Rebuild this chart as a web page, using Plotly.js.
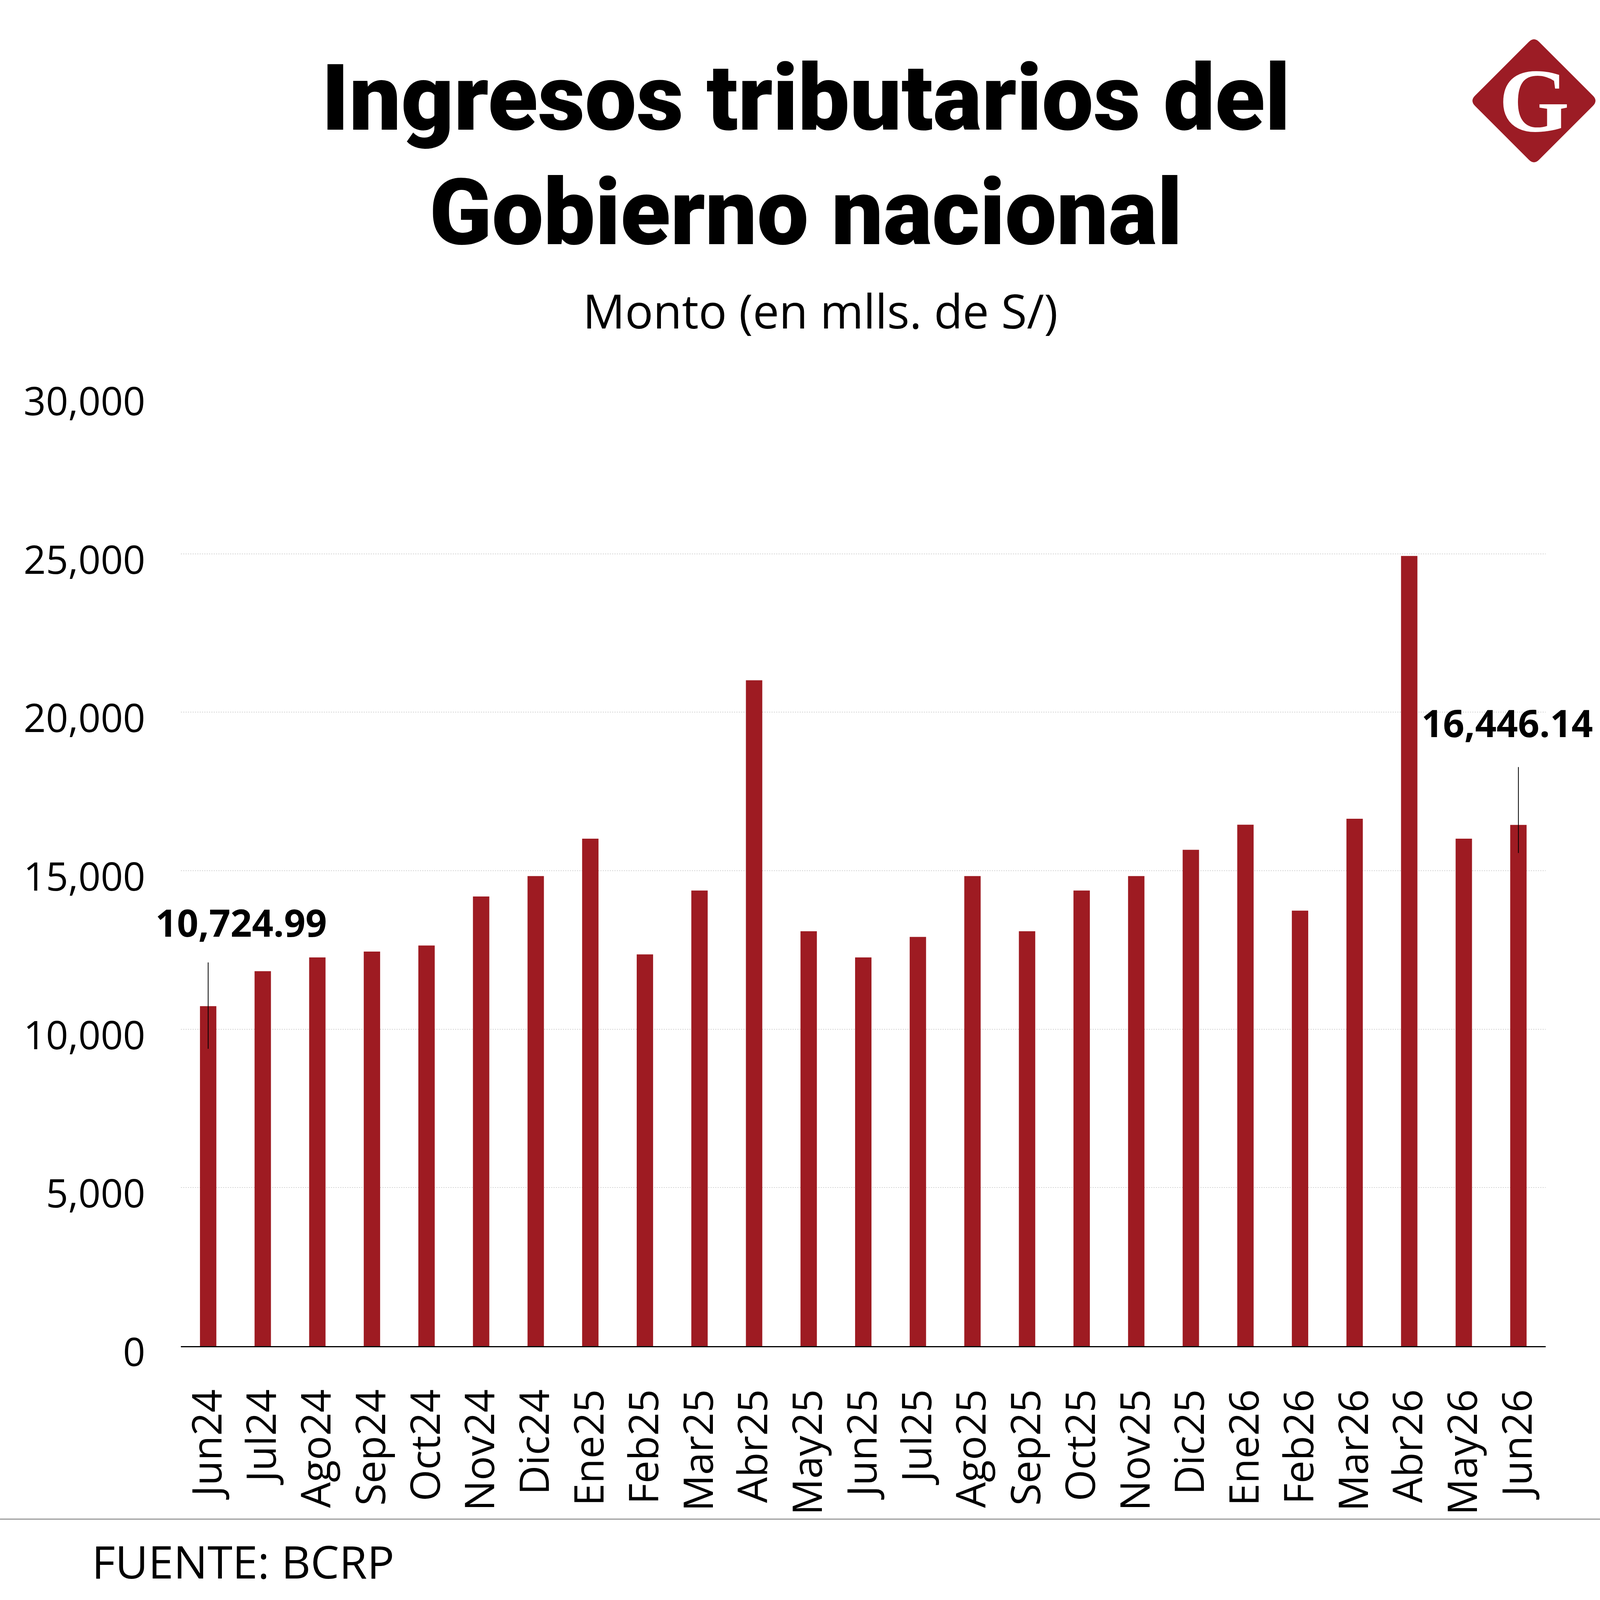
<!DOCTYPE html>
<html>
<head>
<meta charset="utf-8">
<script src="https://cdn.plot.ly/plotly-3.0.1.min.js"></script>
<style>
  html, body { margin: 0; padding: 0; background: #ffffff; }
  #chart { width: 4150px; height: 4598px; }
</style>
</head>
<body>
<div id="chart"></div>
<script>
// ---- Data ----
const months = ['Jun24','Jul24','Ago24','Sep24','Oct24','Nov24','Dic24','Ene25','Feb25','Mar25','Abr25','May25',
                'Jun25','Jul25','Ago25','Sep25','Oct25','Nov25','Dic25','Ene26','Feb26','Mar26','Abr26','May26','Jun26'];
const values = [10724.99, 11830, 12265, 12450, 12640, 14185, 14830, 16010, 12360, 14375, 21010, 13090,
                12265, 12910, 14830, 13090, 14375, 14830, 15660, 16450, 13740, 16640, 24930, 16010, 16446.14];
const yTicks = [0, 5000, 10000, 15000, 20000, 25000, 30000];
const highlighted = [0, 24];   // indices of the labelled bars

const titleLines = ['Ingresos tributarios del', 'Gobierno nacional'];
const subtitle = 'Monto (en mlls. de S/)';
const source = 'FUENTE: BCRP';

// ---- Styling ----
const RED = '#9e1b22';
const fmt = v => v.toLocaleString('en-US', {minimumFractionDigits: 2, maximumFractionDigits: 2});

const trace = { type: 'bar', x: months, y: values, width: 0.3, marker: { color: RED }, hoverinfo: 'x+y' };

// label offsets for the two highlighted bars (pixels)
const labelStyle = [
  { xshift: 85, yshift: 215, lineUp: 112, lineDown: -109 },
  { xshift: -29, yshift: 262, lineUp: 148, lineDown: -72 }
];
const annotations = [];
const shapes = [];
highlighted.forEach((idx, k) => {
  const st = labelStyle[k];
  annotations.push({
    x: months[idx], y: values[idx], xref: 'x', yref: 'y',
    text: fmt(values[idx]), showarrow: false,
    xshift: st.xshift, yshift: st.yshift, xanchor: 'center', yanchor: 'middle',
    font: { family: 'Open Sans', size: 96, color: '#000', weight: 700 }
  });
  shapes.push({
    type: 'line', xref: 'x', yref: 'y', x0: months[idx], x1: months[idx],
    ysizemode: 'pixel', yanchor: values[idx], y0: st.lineDown, y1: st.lineUp,
    line: { color: '#000', width: 2 }
  });
});

// Titles
annotations.push({ xref: 'paper', yref: 'paper', x: 0.4579, y: 1.3125, xanchor: 'center', yanchor: 'middle',
  text: titleLines[0], showarrow: false, font: { family: 'Roboto', size: 235, color: '#000', weight: 900 } });
annotations.push({ xref: 'paper', yref: 'paper', x: 0.4579, y: 1.1920, xanchor: 'center', yanchor: 'middle',
  text: titleLines[1], showarrow: false, font: { family: 'Roboto', size: 235, color: '#000', weight: 900 } });
annotations.push({ xref: 'paper', yref: 'paper', x: 0.4685, y: 1.0895, xanchor: 'center', yanchor: 'middle',
  text: subtitle, showarrow: false, font: { family: 'Open Sans', size: 120, color: '#000' } });
// Source (kept inside the photographed area)
annotations.push({ xref: 'paper', yref: 'paper', x: -0.0658, y: -0.2260, xanchor: 'left', yanchor: 'middle',
  text: source, showarrow: false, font: { family: 'Open Sans', size: 116, color: '#000' } });
// Logo letter
annotations.push({ xref: 'paper', yref: 'paper', x: 0.9914, y: 1.3098, xanchor: 'center', yanchor: 'middle',
  text: 'G', showarrow: false, font: { family: 'Liberation Serif', size: 232, color: '#ffffff', weight: 700 } });

// Logo diamond (rounded)
shapes.push({
  type: 'path', xref: 'paper', yref: 'paper',
  xsizemode: 'pixel', ysizemode: 'pixel', xanchor: 0.9914, yanchor: 1.3098,
  path: 'M -13,151 Q 0,164 13,151 L 151,13 Q 164,0 151,-13 L 13,-151 Q 0,-164 -13,-151 L -151,-13 Q -164,0 -151,13 Z',
  fillcolor: '#9c1c25', line: { width: 0 }, layer: 'below'
});
// Separator line above source
shapes.push({ type: 'line', xref: 'paper', yref: 'paper', x0: -0.1325, x1: 1.0552, y0: -0.1820, y1: -0.1820,
  line: { color: '#9a9a9a', width: 3 } });

const layout = {
  width: 4150, height: 4598,
  margin: { l: 463, r: 193, t: 1012, b: 1152, pad: 0 },
  paper_bgcolor: '#ffffff', plot_bgcolor: '#ffffff', showlegend: false,
  xaxis: { type: 'category', range: [-0.5, months.length - 0.5], autorange: false, tickangle: -90,
    tickfont: { family: 'Open Sans', size: 104, color: '#000' },
    ticks: 'outside', ticklen: 66, tickcolor: 'rgba(0,0,0,0)',
    showline: true, linecolor: '#000', linewidth: 3, showgrid: false, zeroline: false, fixedrange: true },
  yaxis: { range: [0, 30000], autorange: false, tickvals: yTicks, tickformat: ',.0f',
    tickfont: { family: 'Open Sans', size: 100, color: '#000' },
    ticks: 'outside', ticklen: 70, tickcolor: 'rgba(0,0,0,0)', ticklabelshift: 16,
    showgrid: true, gridcolor: '#d6d6d6', gridwidth: 2, griddash: 'dot',
    zeroline: false, showline: false, fixedrange: true },
  annotations: annotations, shapes: shapes
};
Plotly.newPlot('chart', [trace], layout, { displayModeBar: false, responsive: false });
</script>
</body>
</html>
